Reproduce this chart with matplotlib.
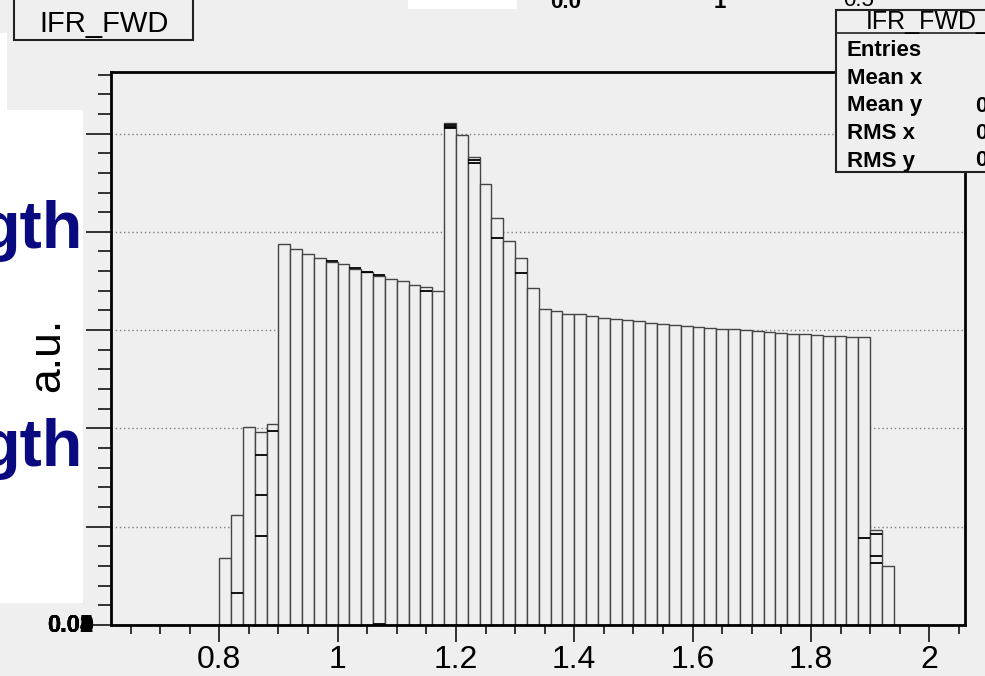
import matplotlib
matplotlib.use("Agg")
import matplotlib.pyplot as plt
import numpy as np
from matplotlib.patches import Rectangle
from matplotlib.lines import Line2D
from matplotlib.ticker import MultipleLocator, FuncFormatter

# ---- data ----
bin_width = 0.02
bin_lo = [0.62, 0.64, 0.66, 0.68, 0.70, 0.72, 0.74, 0.76, 0.78,
          0.80, 0.82, 0.84, 0.86, 0.88,
          0.90, 0.92, 0.94, 0.96, 0.98, 1.00, 1.02, 1.04, 1.06, 1.08, 1.10, 1.12, 1.14, 1.16,
          1.18, 1.20, 1.22, 1.24, 1.26, 1.28, 1.30, 1.32,
          1.34, 1.36, 1.38, 1.40, 1.42, 1.44, 1.46, 1.48, 1.50, 1.52, 1.54, 1.56, 1.58, 1.60,
          1.62, 1.64, 1.66, 1.68, 1.70, 1.72, 1.74, 1.76, 1.78, 1.80, 1.82, 1.84, 1.86, 1.88,
          1.90, 1.92,
          1.94, 1.96, 1.98, 2.00, 2.02, 2.04]
counts = [0, 0, 0, 0, 0, 0, 0, 0, 0,
          0.00679, 0.01122, 0.02017, 0.01963, 0.02042,
          0.03873, 0.03825, 0.03771, 0.03737, 0.03696, 0.03669, 0.03622, 0.03588, 0.03553,
          0.03520, 0.03500, 0.03459, 0.03438, 0.03401,
          0.05104, 0.04985, 0.04758, 0.04489, 0.04139, 0.03904, 0.03737, 0.03424,
          0.03211, 0.03190, 0.03169, 0.03159, 0.03140, 0.03123, 0.03109, 0.03099, 0.03089,
          0.03074, 0.03064, 0.03053, 0.03043, 0.03033, 0.03021, 0.03014, 0.03008, 0.03001,
          0.02994, 0.02984, 0.02973, 0.02965, 0.02958, 0.02952, 0.02945, 0.02941, 0.02934,
          0.02931,
          0.00966, 0.00603,
          0, 0, 0, 0, 0, 0]

# other overlaid histograms (only bins where they differ from the main one)
over_lo = [0.82, 0.86, 0.86, 0.86, 0.88, 1.06, 1.14, 1.18, 1.18, 1.18,
           0.98, 1.02, 1.04, 1.06,
           1.22, 1.22, 1.26, 1.30, 1.88, 1.90, 1.90, 1.90]
over_val = [0.00326, 0.01729, 0.01322, 0.00908, 0.01974, 0.00010, 0.03401, 0.05083, 0.05069, 0.05053,
            0.03701, 0.03627, 0.03593, 0.03558,
            0.04730, 0.04700, 0.03933, 0.03579, 0.00888, 0.00926, 0.00702, 0.00631]

y_ticks = [0, 0.01, 0.02, 0.03, 0.04, 0.05]

W, H = 985, 676
bg = '#efefef'
navy = '#0a0a80'


def fx(px):
    return px / W


def fy(py):
    return 1 - py / H


plt.rcParams['font.family'] = ['Liberation Sans', 'DejaVu Sans']

fig = plt.figure(figsize=(W / 100, H / 100), dpi=100, facecolor=bg)

# slide leftovers on the left
fig.patches.append(Rectangle((fx(0), fy(603)), fx(83), fy(110) - fy(603),
                             transform=fig.transFigure, facecolor='white', edgecolor='none', zorder=0))
fig.patches.append(Rectangle((fx(0), fy(603)), fx(7), fy(33) - fy(603),
                             transform=fig.transFigure, facecolor='white', edgecolor='none', zorder=0))
for yb in [248, 466]:
    fig.text(fx(83), fy(yb), 'gth', ha='right', va='baseline', fontsize=48, fontweight='bold',
             color=navy)
fig.text(fx(48), fy(355), 'a.u.', rotation=90, ha='center', va='center', fontsize=32, color='black')

ax = fig.add_axes([fx(111), fy(625), fx(964.5) - fx(111), fy(72) - fy(625)])
ax.set_facecolor(bg)

ax.bar(bin_lo, counts, width=bin_width, align='edge', facecolor=bg, edgecolor='#444444',
       linewidth=1.0, zorder=2)
over_hi = [v + bin_width for v in over_lo]
ax.hlines(over_val, over_lo, over_hi, color='black', linewidth=1.3, zorder=3)

ax.set_xlim(0.617, 2.0595)
ax.set_ylim(0, 0.05626)

ax.set_axisbelow(True)
ax.yaxis.grid(True, linestyle=(0, (1, 2)), color='#808080', linewidth=1.0)
ax.xaxis.grid(False)

ax.xaxis.set_major_locator(MultipleLocator(0.2))
ax.xaxis.set_minor_locator(MultipleLocator(0.05))
ax.xaxis.set_major_formatter(FuncFormatter(lambda v, p: '%g' % round(v, 2)))
ax.yaxis.set_major_locator(MultipleLocator(0.01))
ax.yaxis.set_minor_locator(MultipleLocator(0.002))
ax.set_yticklabels([])

ax.tick_params(axis='x', which='major', direction='out', length=12.5, width=1.1, pad=2,
               labelsize=23)
ax.tick_params(axis='x', which='minor', direction='out', length=6.5, width=1.1)
ax.tick_params(axis='y', which='major', direction='out', length=18, width=1.1)
ax.tick_params(axis='y', which='minor', direction='out', length=9.5, width=1.1)

for s in ax.spines.values():
    s.set_linewidth(2)
    s.set_color('black')

# y labels all squashed on top of each other at the bottom
for v in y_ticks:
    ax.text(-0.0211, 0, '%g' % v, ha='right', va='center', fontsize=17, fontweight='bold',
            transform=ax.get_yaxis_transform(), color='black', clip_on=False)

# title box
fig.patches.append(Rectangle((fx(14), fy(40)), fx(193) - fx(14), fy(-5) - fy(40),
                             transform=fig.transFigure, facecolor=bg, edgecolor='#222222',
                             linewidth=1.5, zorder=5))
fig.text(fx(104), fy(24), 'IFR_FWD', ha='center', va='center', fontsize=21, zorder=6)

# stats box
fig.patches.append(Rectangle((fx(836), fy(172)), fx(1000) - fx(836), fy(10) - fy(172),
                             transform=fig.transFigure, facecolor=bg, edgecolor='#222222',
                             linewidth=1.5, zorder=5))
fig.lines.append(Line2D([fx(836), fx(985)], [fy(33), fy(33)], transform=fig.transFigure,
                        color='#222222', linewidth=1.2, zorder=6))
fig.text(fx(866), fy(22), 'IFR_FWD_', ha='left', va='center', fontsize=18, zorder=6)
rows = ['Entries', 'Mean x', 'Mean y', 'RMS x', 'RMS y']
vals = ['', '', '0', '0', '0']
for i, (r, v) in enumerate(zip(rows, vals)):
    yy = 51 + i * 27.5
    fig.text(fx(847), fy(yy), r, ha='left', va='center', fontsize=16, fontweight='bold', zorder=6)
    fig.text(fx(975), fy(yy), v, ha='left', va='center', fontsize=16, fontweight='bold', zorder=6)

# cut-off fragments at the top edge
fig.patches.append(Rectangle((fx(408), fy(9)), fx(517) - fx(408), fy(-5) - fy(9),
                             transform=fig.transFigure, facecolor='white', edgecolor='none', zorder=5))
fig.text(fx(566), fy(8), '0.0', ha='center', va='baseline', fontsize=16, fontweight='bold', zorder=6)
fig.text(fx(720), fy(8), '1', ha='center', va='baseline', fontsize=16, fontweight='bold', zorder=6)
fig.text(fx(859), fy(6), '0.5', ha='center', va='baseline', fontsize=16, zorder=6)

fig.savefig('out.png', dpi=100, facecolor=bg)
